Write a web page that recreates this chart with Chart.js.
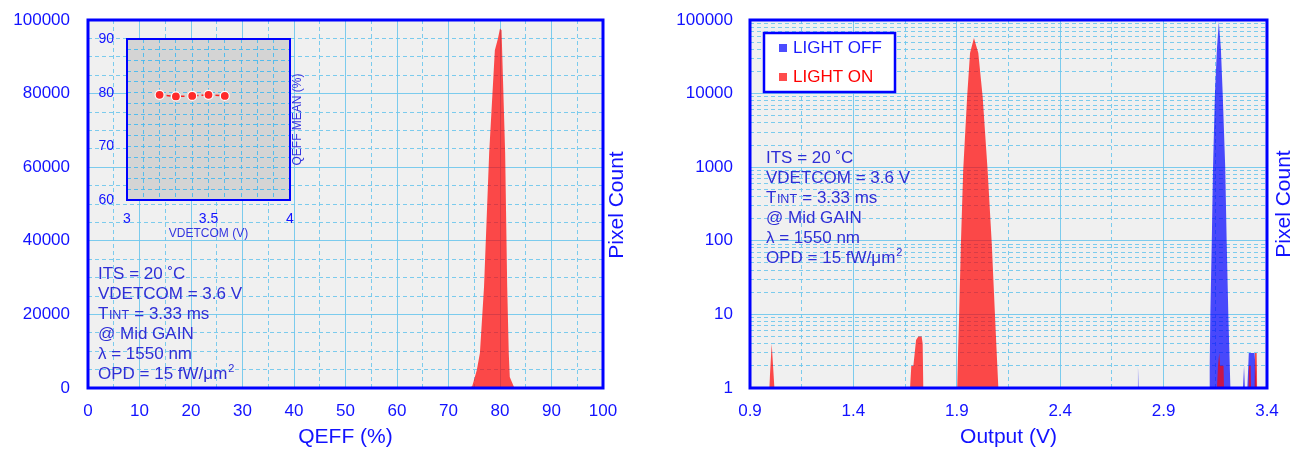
<!DOCTYPE html>
<html><head><meta charset="utf-8">
<script src="https://cdn.jsdelivr.net/npm/chart.js@4.4.0/dist/chart.umd.min.js"></script>
<style>
body{margin:0;background:#fff;}
#wrap{position:relative;width:1302px;height:450px;overflow:hidden;}
canvas{position:absolute;}
</style></head><body>
<div id="wrap">
<canvas id="left" width="651" height="450" style="left:0;top:0"></canvas>
<canvas id="inset" width="240" height="230" style="left:80px;top:25px"></canvas>
<canvas id="right" width="651" height="450" style="left:651px;top:0"></canvas>
</div>
<script>
// ---------- DATA ----------
// Left: QEFF histogram (light on)
const qeffPct   = [74.0, 74.6, 75.5, 76.1, 76.9, 77.9, 79.0, 79.6, 80.0, 80.3, 81.0, 81.2, 81.4, 81.7, 81.9, 82.2, 82.8];
const qeffCount = [0,    500,  4900, 9500, 27500,64000,91800,95000,97700,97200,64000,45600,27500,9500, 3000, 2000, 0];
// Inset: QEFF mean vs VDETCOM
const insetVdet      = [3.2, 3.3, 3.4, 3.5, 3.6];
const insetQeffMean  = [79.6, 79.3, 79.4, 79.6, 79.4];
// Right: output histograms
const offVolt  = [2.772, 2.776, 2.779, 3.121, 3.123, 3.126, 3.133, 3.139, 3.148, 3.158, 3.167, 3.177, 3.186, 3.198, 3.205, 3.213, 3.223, 3.284, 3.289, 3.293, 3.305, 3.312, 3.340, 3.350];
const offCount = [0,     2,     0,     0,     2,     10,    100,   1000,  9600,  41000, 95000, 41000, 9600,  1000,  100,   10,    0,     0,     2,     0,     0,     3,     3,     0];
const onVolt   = [0.993, 1.005, 1.018, 1.674, 1.680, 1.690, 1.703, 1.714, 1.730, 1.735, 1.738, 1.902, 1.906, 1.911, 1.920, 1.931, 1.950, 1.964, 1.983, 2.004, 2.025, 2.049, 2.069, 2.085, 2.093, 2.101, 3.158, 3.163, 3.169, 3.173, 3.190, 3.192, 3.311, 3.313, 3.321, 3.323, 3.340, 3.342, 3.350, 3.353];
const onCount  = [0,     4,     0,     0,     2,     2,     4.5,   5,     5,     4,     0,     0,     3,     9.3,   93,    917,   9080,  35500, 57000, 35500, 9080,  917,   93,    9.3,   3,     0,     0,     2,     3,     2,     2,     0,     0,     2,     2,     0,     0,     3,     3,     0];
const seriesLabels = ['LIGHT OFF', 'LIGHT ON'];
// Tick labels
const leftXLabels  = [0, 10, 20, 30, 40, 50, 60, 70, 80, 90, 100];
const leftYLabels  = [0, 20000, 40000, 60000, 80000, 100000];
const insetXLabels = [3, 3.5, 4];
const insetYLabels = [60, 70, 80, 90];
const rightXLabels = [0.9, 1.4, 1.9, 2.4, 2.9, 3.4];
const rightYLabels = [1, 10, 100, 1000, 10000, 100000];
// Text
const infoLines = [
  [['ITS = 20 ˚C', 'n']],
  [['VDETCOM = 3.6 V', 'n']],
  [['T', 'n'], ['INT', 'sub'], [' = 3.33 ms', 'n']],
  [['@ Mid GAIN', 'n']],
  [['λ = 1550 nm', 'n']],
  [['OPD = 15 fW/μm', 'n'], ['2', 'sup']]
];
const leftXTitle = 'QEFF (%)';
const rightXTitle = 'Output (V)';
const yTitle = 'Pixel Count';
const insetXTitle = 'VDETCOM (V)';
const insetYTitle = 'QEFF MEAN (%)';

// ---------- STYLE ----------
const FONT = "'Liberation Sans', Arial, sans-serif";
const TICK_BLUE = '#1212ff';
const TEXT_BLUE = '#2e2ed6';
const GRID = 'rgba(110,198,236,0.9)';
const RED = 'rgba(255,0,0,0.7)';
const BLUE = 'rgba(0,0,255,0.7)';
const LOG_FLOOR = 1; // zero counts sit on the bottom of the log axis
const near = (arr, v) => arr.some(t => Math.abs(t - v) < 1e-6);
function subdivide(majors, n) {
  const out = [];
  for (let i = 0; i < majors.length; i++) {
    out.push(majors[i]);
    if (i < majors.length - 1) {
      const st = (majors[i + 1] - majors[i]) / n;
      for (let k = 1; k < n; k++) out.push(+(majors[i] + k * st).toFixed(6));
    }
  }
  return out;
}
function logTicks(majors) {
  const out = [];
  majors.forEach((d, i) => {
    out.push(d);
    if (i < majors.length - 1) for (let m = 2; m <= 9; m++) out.push(d * m);
  });
  return out;
}
function fmt(v) { return String(+v.toFixed(6)); }

function scaleCfg(o) {
  return {
    type: o.type || 'linear', position: o.position, min: o.min, max: o.max,
    afterBuildTicks: s => { s.ticks = o.ticks.map(v => ({ value: v })); },
    afterFit: s => { if (o.width != null) s.width = o.width; if (o.height != null) s.height = o.height; },
    ticks: {
      autoSkip: false, maxRotation: 0, minRotation: 0, color: o.tickColor || TICK_BLUE,
      padding: o.padding, font: { family: FONT, size: o.fontSize || 17, lineHeight: o.vertical ? 0.01 : 1.2 },
      callback: v => near(o.labels, v) ? fmt(v) : ''
    },
    grid: {
      drawTicks: false, lineWidth: 1, color: o.gridColor || GRID
    },
    border: {
      display: false,
      dash: ctx => (o.allDashed || !near(o.labels, ctx.tick ? ctx.tick.value : NaN)) ? [4, 3] : []
    }
  };
}

function framePlugin(bg, borderW) {
  return {
    id: 'frame',
    beforeDraw(chart) {
      const { ctx, chartArea: a } = chart;
      ctx.save(); ctx.fillStyle = bg; ctx.fillRect(a.left, a.top, a.width, a.height); ctx.restore();
    },
    afterDraw(chart) {
      const { ctx, chartArea: a } = chart;
      ctx.save(); ctx.strokeStyle = '#0000ff'; ctx.lineWidth = borderW;
      ctx.strokeRect(a.left, a.top, a.width, a.height); ctx.restore();
    }
  };
}

function drawInfo(ctx, x, yc, step) {
  ctx.save();
  ctx.fillStyle = TEXT_BLUE;
  ctx.textBaseline = 'alphabetic';
  ctx.textAlign = 'left';
  infoLines.forEach((line, i) => {
    const base = yc + i * step + 6;
    let cx = x;
    line.forEach(([t, kind]) => {
      if (kind === 'n') { ctx.font = '17px ' + FONT; ctx.fillText(t, cx, base); }
      else if (kind === 'sub') { ctx.font = '12.5px ' + FONT; ctx.fillText(t, cx + 0.5, base); cx += 1; }
      else if (kind === 'sup') { ctx.font = '11px ' + FONT; ctx.fillText(t, cx + 1, base - 7); }
      cx += ctx.measureText(t).width;
    });
  });
  ctx.restore();
}
function drawRot(ctx, text, x, y, font, color) {
  ctx.save(); ctx.translate(x, y); ctx.rotate(-Math.PI / 2);
  ctx.font = font; ctx.fillStyle = color; ctx.textAlign = 'center'; ctx.textBaseline = 'middle';
  ctx.fillText(text, 0, 0); ctx.restore();
}
function drawCenter(ctx, text, x, y, font, color) {
  ctx.save(); ctx.font = font; ctx.fillStyle = color; ctx.textAlign = 'center'; ctx.textBaseline = 'middle';
  ctx.fillText(text, x, y); ctx.restore();
}

const common = {
  responsive: false, animation: false, events: [],
  plugins: { legend: { display: false }, tooltip: { enabled: false } },
  elements: { line: { tension: 0 } }
};

// ---------- LEFT CHART ----------
new Chart(document.getElementById('left'), {
  type: 'line',
  data: { datasets: [{
    data: qeffPct.map((x, i) => ({ x, y: qeffCount[i] })),
    fill: 'start', backgroundColor: RED, borderColor: RED, borderWidth: 0, pointRadius: 0
  }] },
  options: Object.assign({}, common, {
    layout: { padding: { top: 20, right: 48, left: 0, bottom: 0 } },
    scales: {
      x: scaleCfg({ min: 0, max: 100, ticks: subdivide(leftXLabels, 2), labels: leftXLabels, height: 62, padding: 13 }),
      y: scaleCfg({ min: 0, max: 100000, ticks: subdivide(leftYLabels, 4), labels: leftYLabels, width: 88, padding: 18, vertical: true })
    }
  }),
  plugins: [framePlugin('#f0f0f0', 3), {
    id: 'decor',
    afterDraw(chart) {
      const ctx = chart.ctx, a = chart.chartArea;
      drawInfo(ctx, 98, 273, 20);
      drawCenter(ctx, leftXTitle, (a.left + a.right) / 2, 437, '21px ' + FONT, TICK_BLUE);
      drawRot(ctx, yTitle, 617, (a.top + a.bottom) / 2 + 1, '21px ' + FONT, TICK_BLUE);
    }
  }]
});

// ---------- INSET ----------
new Chart(document.getElementById('inset'), {
  type: 'line',
  data: { datasets: [{
    data: insetVdet.map((x, i) => ({ x, y: insetQeffMean[i] })),
    borderColor: '#ff2020', borderWidth: 1.5, borderDash: [4, 3], fill: false,
    pointRadius: 4.5, pointBackgroundColor: '#ff2a2a', pointBorderColor: '#ffffff', pointBorderWidth: 1.2
  }] },
  options: Object.assign({}, common, {
    layout: { padding: { top: 14, right: 30, left: 0, bottom: 0 } },
    scales: {
      x: scaleCfg({ min: 3, max: 4, ticks: subdivide(insetXLabels, 5), labels: insetXLabels, height: 55, padding: 11, fontSize: 14, allDashed: true, gridColor: 'rgba(70,185,240,0.9)' }),
      y: scaleCfg({ min: 60, max: 90, ticks: subdivide(insetYLabels, 5), labels: insetYLabels, width: 47, padding: 13, fontSize: 14, allDashed: true, gridColor: 'rgba(70,185,240,0.9)', vertical: true })
    }
  }),
  plugins: [framePlugin('#d4d4d4', 2), {
    id: 'decor2',
    afterDraw(chart) {
      const ctx = chart.ctx, a = chart.chartArea;
      drawCenter(ctx, insetXTitle, (a.left + a.right) / 2, 209, '12px ' + FONT, '#3434e0');
      drawRot(ctx, insetYTitle, 218, (a.top + a.bottom) / 2, '12px ' + FONT, '#3434e0');
    }
  }]
});

// ---------- RIGHT CHART ----------
const seriesColors = [BLUE, RED];
const legendTextColors = ['#1a1aff', '#ff0000'];
new Chart(document.getElementById('right'), {
  type: 'line',
  data: { datasets: [
    { label: seriesLabels[0], data: offVolt.map((x, i) => ({ x, y: Math.max(offCount[i], LOG_FLOOR) })), order: 2,
      fill: 'start', backgroundColor: BLUE, borderColor: BLUE, borderWidth: 0, pointRadius: 0 },
    { label: seriesLabels[1], data: onVolt.map((x, i) => ({ x, y: Math.max(onCount[i], LOG_FLOOR) })), order: 1,
      fill: 'start', backgroundColor: RED, borderColor: RED, borderWidth: 0, pointRadius: 0 }
  ] },
  options: Object.assign({}, common, {
    layout: { padding: { top: 20, right: 35, left: 0, bottom: 0 } },
    scales: {
      x: scaleCfg({ min: 0.9, max: 3.4, ticks: subdivide(rightXLabels, 2), labels: rightXLabels, height: 62, padding: 13 }),
      y: scaleCfg({ type: 'logarithmic', min: 1, max: 100000, ticks: logTicks(rightYLabels), labels: rightYLabels, width: 99, padding: 17, vertical: true })
    }
  }),
  plugins: [framePlugin('#f0f0f0', 3), {
    id: 'decor3',
    afterDraw(chart) {
      const ctx = chart.ctx, a = chart.chartArea;
      drawInfo(ctx, 115, 157, 20);
      drawCenter(ctx, rightXTitle, (a.left + a.right) / 2, 437, '21px ' + FONT, TICK_BLUE);
      drawRot(ctx, yTitle, 633, (a.top + a.bottom) / 2, '21px ' + FONT, TICK_BLUE);
      // legend
      ctx.save();
      ctx.fillStyle = '#ffffff'; ctx.fillRect(113, 33, 131, 59);
      ctx.strokeStyle = '#0000ff'; ctx.lineWidth = 2.5; ctx.strokeRect(113, 33, 131, 59);
      ctx.font = '17px ' + FONT; ctx.textBaseline = 'middle'; ctx.textAlign = 'left';
      chart.data.datasets.forEach((ds, i) => {
        const yc = 48 + i * 29;
        ctx.fillStyle = seriesColors[i]; ctx.fillRect(128, yc - 4, 8, 8);
        ctx.fillStyle = legendTextColors[i]; ctx.fillText(ds.label, 142, yc);
      });
      ctx.restore();
    }
  }]
});
</script>
</body></html>
